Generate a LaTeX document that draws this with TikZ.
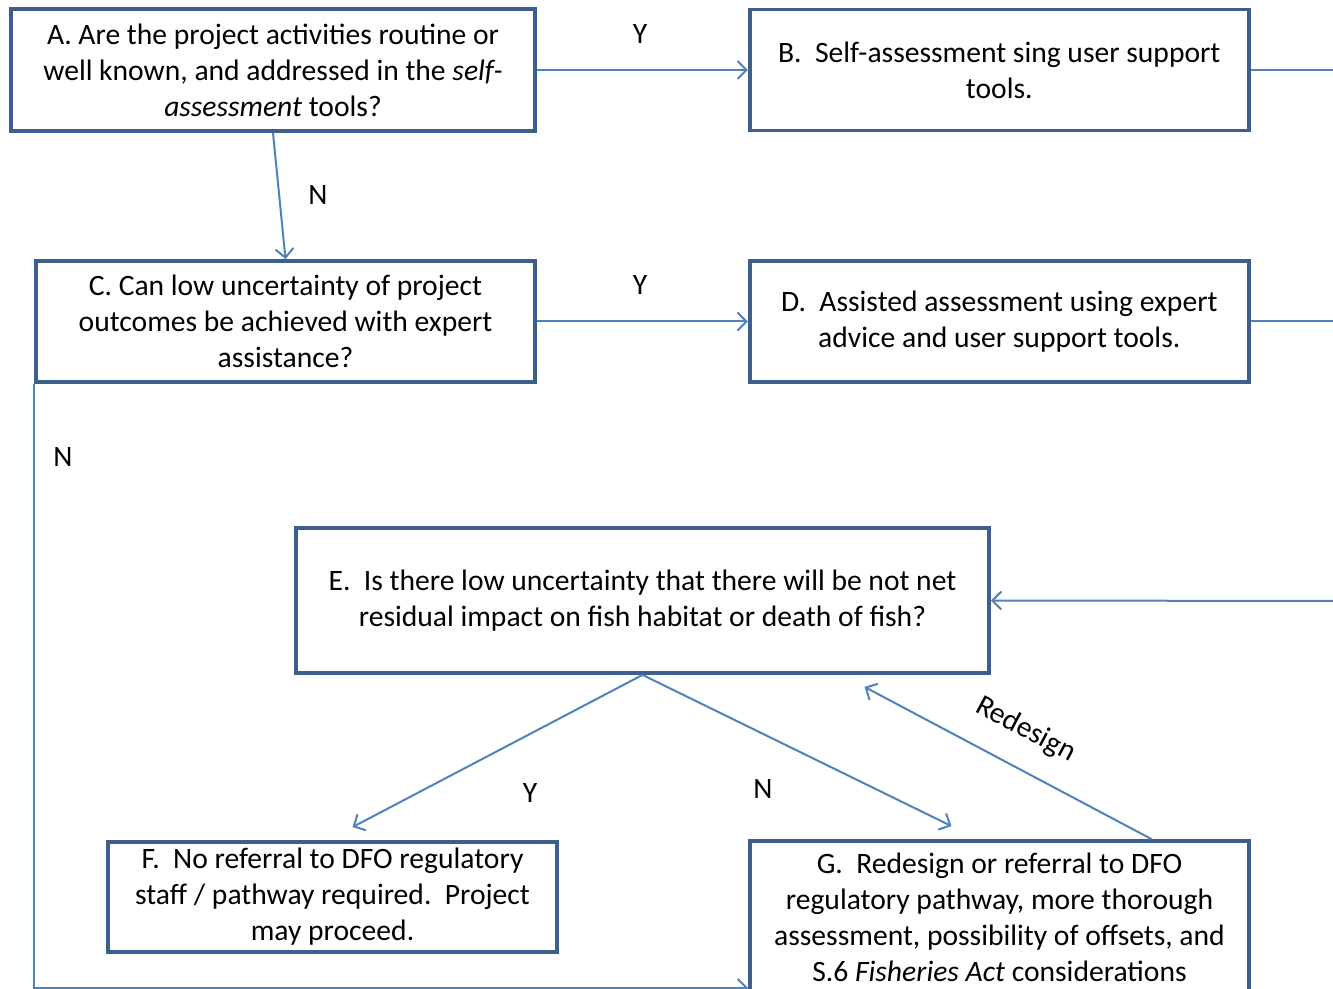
\documentclass[tikz,border=0pt]{standalone}
\usepackage{fontspec}
\setmainfont{Carlito}
\usetikzlibrary{arrows.meta,positioning}
\definecolor{boxline}{HTML}{3D5F8E}
\definecolor{flowline}{HTML}{4F81BD}

\begin{document}
\begin{tikzpicture}[
    x=0.5pt, y=-0.5pt,
    font=\fontsize{14.8}{18}\selectfont,
    node distance=105pt,
    stepbox/.style={draw=boxline, fill=white, line width=1.9pt,
                  align=center, inner sep=0pt, minimum width=249.5pt,
                  minimum height=60.5pt},
    decision/.style={inner sep=0pt},
    flow/.style={-{Straight Barb[length=4.5pt,width=9pt]}, line width=1pt, draw=flowline},
    rail/.style={line width=1pt, draw=flowline}
]
  \useasboundingbox (0,0) rectangle (1333,989);
  \clip (0,0) rectangle (1333,989);

  % question boxes on the left, outcomes on the right
  \node[stepbox, minimum width=262pt, minimum height=61pt] (selfq) at (273,70)
    {A. Are the project activities\ routine or\\
     well known, and addressed in the \textit{self-}\\
     \textit{assessment}\ tools?};
  \node[stepbox, right=105.5pt of selfq] (selfa)
    {B.\ \ Self-assessment sing user support\\ tools.};
  \node[stepbox] (expq) at (285.5,321.5)
    {C. Can low uncertainty of project\\
     outcomes be achieved\ with expert\\ assistance?};
  \node[stepbox, right=105.5pt of expq] (expa)
    {D.\ \ Assisted assessment using expert\\ advice and user support tools.};
  \node[stepbox, minimum width=346.5pt, minimum height=72.5pt] (impact) at (642.5,600.5)
    {E.\ \ Is there low uncertainty\ that there will be not net\\
     residual impact\ on\ fish habitat or death of fish?};
  \node[stepbox, minimum width=224.5pt, minimum height=55pt] (noref) at (332.5,897)
    {F.\ \ No referral to DFO regulatory\\
     staff / pathway required.\ \ Project\\ may proceed.};
  \node[stepbox, minimum height=76pt] (redes) at (999.5,917)
    {G.\ \ Redesign\ or referral to DFO\\
     regulatory pathway, more thorough\\
     assessment,\ possibility\ of offsets,\ and\\
     S.6 \textit{Fisheries Act} considerations};

  % answer letters
  \node[decision] (yab) at (640,34) {Y};
  \node[decision] (nac) at (318,195) {N};
  \node[decision] (ycd) at (640,285) {Y};
  \node[decision] (ncg) at (63,457) {N};
  \node[decision] (yef) at (530,793) {Y};
  \node[decision] (neg) at (763,789) {N};

  \coordinate (back) at (1345,601);

  \draw[flow] (selfq) -- (selfa);
  \draw[flow] (selfq.south) -- (expq.north);
  \draw[flow] (expq) -- (expa);
  \draw[rail] (selfa.east) -| (back);
  \draw[rail] (expa.east) -| (back);
  \draw[flow] (back) -- (impact.east);
  \draw[flow] (expq.south west) |- ([yshift=3.5pt]redes.south west);
  \draw[flow] (impact.south) -- ([xshift=10pt,yshift=6.5pt]noref.north);
  \draw[flow] (impact.south) -- ([xshift=-24pt,yshift=6.5pt]redes.north);
  \draw[flow] ([xshift=76pt]redes.north) -- ([xshift=111pt,yshift=-6pt]impact.south)
    node[pos=0.5, sloped, above=12pt, inner sep=0pt] (redlab) {Redesign};
\end{tikzpicture}
\end{document}
